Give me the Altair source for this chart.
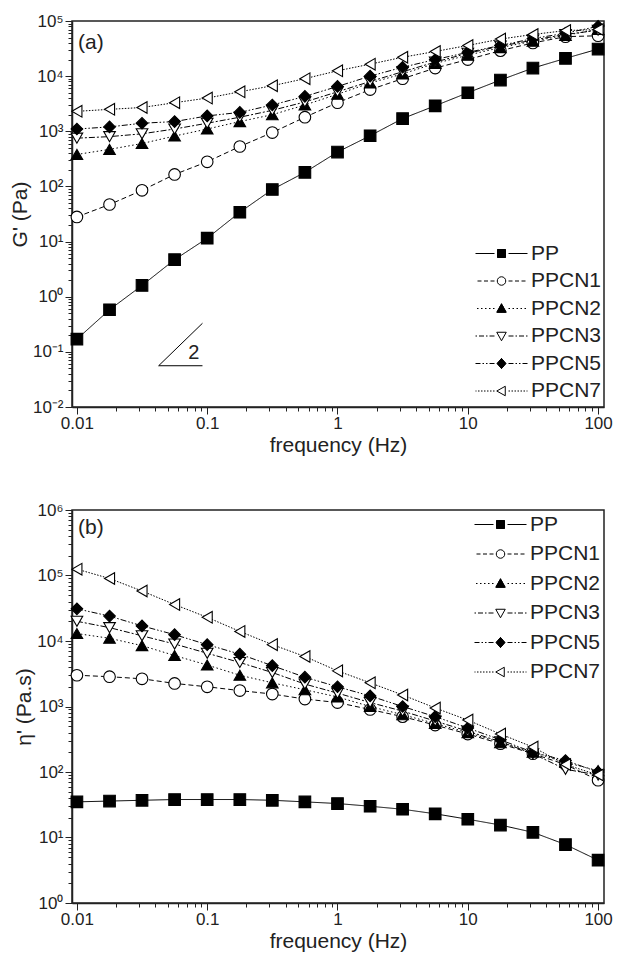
import json
import altair as alt
import pandas as pd

# ---------------- data ----------------
freq = [0.01, 0.0178, 0.0316, 0.0562, 0.1, 0.178, 0.316, 0.562, 1.0,
        1.78, 3.16, 5.62, 10.0, 17.8, 31.6, 56.2, 100.0]
series = ["PP", "PPCN1", "PPCN2", "PPCN3", "PPCN5", "PPCN7"]

# (a) storage modulus G' (Pa)
g_pp    = [0.17, 0.58, 1.6, 4.7, 11.5, 34, 88, 180, 420, 830, 1700, 2900, 5000, 8500, 14000, 21000, 31000]
g_ppcn1 = [28, 47, 85, 165, 280, 530, 950, 1800, 3300, 5700, 9000, 14000, 20000, 29000, 40000, 52000, 54000]
g_ppcn2 = [380, 470, 600, 820, 1100, 1500, 2000, 3000, 4700, 7500, 11000, 17000, 24000, 33000, 43000, 55000, 70000]
g_ppcn3 = [750, 800, 900, 1100, 1400, 1800, 2400, 3400, 5200, 8000, 12000, 18000, 26000, 35000, 45000, 57000, 68000]
g_ppcn5 = [1100, 1200, 1400, 1500, 1900, 2200, 3000, 4300, 6500, 10000, 14500, 20000, 27000, 36000, 48000, 60000, 80000]
g_ppcn7 = [2300, 2500, 2700, 3300, 4000, 5200, 6700, 9000, 12500, 16500, 22000, 28000, 36000, 47000, 57000, 67000, 70000]

# (b) dynamic viscosity eta' (Pa.s)
e_pp    = [35, 36, 37, 38, 38, 38, 37, 35, 33, 30, 27, 23, 19, 15.5, 12, 7.8, 4.5]
e_ppcn1 = [3000, 2850, 2650, 2250, 2000, 1750, 1550, 1300, 1150, 900, 700, 520, 380, 270, 190, 130, 75]
e_ppcn2 = [13000, 11000, 8500, 6000, 4300, 3000, 2300, 1800, 1400, 1000, 750, 550, 400, 280, 200, 140, 105]
e_ppcn3 = [20000, 16000, 12000, 9000, 6500, 4700, 3300, 2200, 1600, 1150, 850, 600, 420, 290, 190, 110, 90]
e_ppcn5 = [31000, 24000, 17000, 12500, 8800, 6300, 4200, 2800, 2000, 1450, 1000, 700, 470, 310, 200, 150, 100]
e_ppcn7 = [125000, 90000, 58000, 36000, 23000, 14000, 8800, 5800, 3500, 2300, 1500, 950, 620, 380, 240, 130, 90]

# slope-2 guide triangle in panel (a)
tri_x = [0.092, 0.0424, 0.092]
tri_y = [0.33, 0.056, 0.056]

x_major = [0.01, 0.1, 1.0, 10.0, 100.0]
x_major_labels = ["0.01", "0.1", "1", "10", "100"]
ya_major = [0.01, 0.1, 1.0, 10.0, 100.0, 1000.0, 10000.0, 100000.0]
ya_labels = ["10⁻²", "10⁻¹", "10⁰", "10¹", "10²", "10³", "10⁴", "10⁵"]
yb_major = [1.0, 10.0, 100.0, 1000.0, 10000.0, 100000.0, 1000000.0]
yb_labels = ["10⁰", "10¹", "10²", "10³", "10⁴", "10⁵", "10⁶"]

FONT = "Liberation Sans"


def long_df(cols):
    rows = []
    for s, vals in zip(series, cols):
        for i, (f, v) in enumerate(zip(freq, vals)):
            rows.append({"freq": f, "value": v, "series": s, "ord": i})
    return pd.DataFrame(rows)


df_a = long_df([g_pp, g_ppcn1, g_ppcn2, g_ppcn3, g_ppcn5, g_ppcn7])
df_b = long_df([e_pp, e_ppcn1, e_ppcn2, e_ppcn3, e_ppcn5, e_ppcn7])


def with_minor(major):
    vals = []
    for m in major[:-1]:
        vals.append(m)
        for k in range(2, 10):
            vals.append(round(m * k, 10))
    vals.append(major[-1])
    return vals


def label_expr(major, labels):
    mj = json.dumps(major)
    lb = json.dumps(labels, ensure_ascii=False)
    return f"indexof({mj}, datum.value) >= 0 ? {lb}[indexof({mj}, datum.value)] : ''"


def tick_size(major):
    return {"condition": {"test": f"indexof({json.dumps(major)}, datum.value) >= 0", "value": 7}, "value": 4}


shapes = ["square", "circle", "triangle-up", "triangle-down", "diamond", "triangle-left"]
fills = ["black", "white", "black", "white", "black", "white"]

# ---- legend symbols: line - marker - line, drawn as one stroked path ----
UNIT = 5.0
legend_dash_px = [[100, 0], [4, 2.5], [1.5, 2.5], [5, 2, 1.5, 2], [5, 2, 1.5, 2, 1.5, 2], [1.5, 1.5]]


def seg_path(pattern, inner=1.4, outer=5.2):
    segs = []
    for sgn in (-1, 1):
        pos = inner * UNIT
        end = outer * UNIT
        i = 0
        while pos < end - 0.01:
            dash = pattern[i % len(pattern)]
            gap = pattern[(i + 1) % len(pattern)]
            a, b = pos, min(pos + dash, end)
            segs.append(f"M{sgn * a / UNIT:.3f},0L{sgn * b / UNIT:.3f},0")
            pos = b + gap
            i += 2
    return "".join(segs)


def hatch(half_width, y0, y1, step=0.08):
    # solid look for filled markers: dense strokes
    out = []
    y = y0
    while y <= y1 + 1e-9:
        hw = half_width(y)
        if hw > 0.02:
            out.append(f"M{-hw:.3f},{y:.3f}L{hw:.3f},{y:.3f}")
        y += step
    return "".join(out)


sq = ("M-0.8,-0.8L0.8,-0.8L0.8,0.8L-0.8,0.8Z" + hatch(lambda y: 0.8, -0.8, 0.8)
      + "".join(f"M{x:.2f},-0.8L{x:.2f},0.8" for x in [-0.6, -0.4, -0.2, 0, 0.2, 0.4, 0.6]))
circ = "M0.85,0A0.85,0.85,0,1,1,-0.85,0A0.85,0.85,0,1,1,0.85,0Z"
tri_up = ("M0,-0.95L0.95,0.75L-0.95,0.75Z" + hatch(lambda y: 0.95 * (y + 0.95) / 1.7, -0.95, 0.75)
          + "M0,-0.95L0,0.75M-0.3,-0.4L-0.3,0.75M0.3,-0.4L0.3,0.75M-0.6,0.2L-0.6,0.75M0.6,0.2L0.6,0.75")
tri_dn = "M0,0.95L0.95,-0.75L-0.95,-0.75Z"
diam = ("M0,-1L0.9,0L0,1L-0.9,0Z" + hatch(lambda y: 0.9 * (1 - abs(y)), -1, 1)
        + "M0,-1L0,1M-0.3,-0.65L-0.3,0.65M0.3,-0.65L0.3,0.65M-0.6,-0.3L-0.6,0.3M0.6,-0.3L0.6,0.3")
tri_lf = "M-0.95,0L0.75,-0.95L0.75,0.95Z"
marker_paths = [sq, circ, tri_up, tri_dn, diam, tri_lf]

legend_shapes = [seg_path(p) + m for p, m in zip(legend_dash_px, marker_paths)]

X_DOMAIN = [0.00917, 111]
W = 532


def make_legend(xy, row_pad):
    return alt.Legend(title=None, orient="none", legendX=xy[0], legendY=xy[1],
                      labelFont=FONT, labelFontSize=21, labelColor="#222",
                      symbolSize=100, symbolStrokeWidth=1, symbolOpacity=1,
                      symbolStrokeColor="#000000",
                      labelOffset=19, rowPadding=row_pad)


def panel(df, y_domain, y_major, y_labels, y_title, dashes, legend_xy, row_pad, height,
          annot=None):
    x_enc = alt.X("freq:Q", scale=alt.Scale(type="log", domain=X_DOMAIN, nice=False),
                  axis=alt.Axis(values=with_minor(x_major), labelExpr=label_expr(x_major, x_major_labels),
                                tickSize=tick_size(x_major), labelOverlap=False, grid=False,
                                title="frequency (Hz)", labelPadding=1, titlePadding=3))
    y_enc = alt.Y("value:Q", scale=alt.Scale(type="log", domain=y_domain, nice=False),
                  axis=alt.Axis(values=with_minor(y_major), labelExpr=label_expr(y_major, y_labels),
                                tickSize=tick_size(y_major), labelOverlap=False, grid=False,
                                title=y_title, labelPadding=2, titlePadding=2))
    base = alt.Chart(df)
    lines = base.mark_line(color="black", strokeWidth=1).encode(
        x=x_enc, y=y_enc,
        strokeDash=alt.StrokeDash("series:N", scale=alt.Scale(domain=series, range=dashes), legend=None),
        order="ord:Q",
    )
    points = base.mark_point(size=135, stroke="black", strokeWidth=1.1, opacity=1).encode(
        x="freq:Q", y="value:Q",
        shape=alt.Shape("series:N", scale=alt.Scale(domain=series, range=shapes), legend=None),
        fill=alt.Fill("series:N", scale=alt.Scale(domain=series, range=fills), legend=None),
    )
    legend_layer = base.transform_filter("false").mark_point(
        opacity=1, strokeOpacity=1, strokeWidth=1).encode(
        x="freq:Q", y="value:Q",
        shape=alt.Shape("series:N", scale=alt.Scale(domain=series, range=legend_shapes),
                        legend=make_legend(legend_xy, row_pad)),
        color=alt.Color("series:N", scale=alt.Scale(domain=series, range=["#000000"] * 6),
                        legend=make_legend(legend_xy, row_pad)),
    )
    layers = [lines, points, legend_layer]
    if annot is not None:
        layers += annot
    return alt.layer(*layers).resolve_scale(shape="independent").properties(
        width=W, height=height)


dash_a = [[1, 0], [5, 3], [1.5, 2.5], [6, 2, 2, 2], [6, 2, 1.5, 2, 1.5, 2], [1.5, 1.5]]
dash_b = [[9, 3], [5, 3], [1.5, 2.5], [6, 2, 2, 2], [6, 2, 1.5, 2, 1.5, 2], [1.5, 1.5]]

tri_df = pd.DataFrame({"x": tri_x, "y": tri_y, "o": [0, 1, 2]})
tri = alt.Chart(tri_df).mark_line(color="black", strokeWidth=1).encode(
    x="x:Q", y="y:Q", order="o:Q")
tri_label = alt.Chart(pd.DataFrame({"x": [0.079], "y": [0.095], "t": ["2"]})).mark_text(
    font=FONT, fontSize=20, color="#222").encode(x="x:Q", y="y:Q", text="t:N")
lab_a = alt.Chart(pd.DataFrame({"x": [0.0102], "y": [40000], "t": ["(a)"]})).mark_text(
    font=FONT, fontSize=21, align="left", color="#222").encode(x="x:Q", y="y:Q", text="t:N")
lab_b = alt.Chart(pd.DataFrame({"x": [0.0102], "y": [530000], "t": ["(b)"]})).mark_text(
    font=FONT, fontSize=21, align="left", color="#222").encode(x="x:Q", y="y:Q", text="t:N")

top = panel(df_a, [0.01, 100000], ya_major, ya_labels, "G' (Pa)", dash_a, (419, 222), 5.5, 386,
            annot=[tri, tri_label, lab_a])
bottom = panel(df_b, [1, 1000000], yb_major, yb_labels, "η' (Pa.s)", dash_b, (418, 4), 7.5, 393,
               annot=[lab_b])

chart = alt.vconcat(top, bottom, spacing=44).configure(
    padding={"left": 0, "top": 3, "right": 0, "bottom": 0}
).configure_view(
    stroke="#222", strokeWidth=1.5
).configure_axis(
    labelFont=FONT, titleFont=FONT, labelFontSize=17, titleFontSize=21,
    titleFontWeight="normal", labelColor="#222", titleColor="#222",
    domainColor="#222", domainWidth=1.5, tickColor="#222", tickWidth=1,
)

chart.save("out.html", embed_options={"renderer": "svg", "actions": False})
